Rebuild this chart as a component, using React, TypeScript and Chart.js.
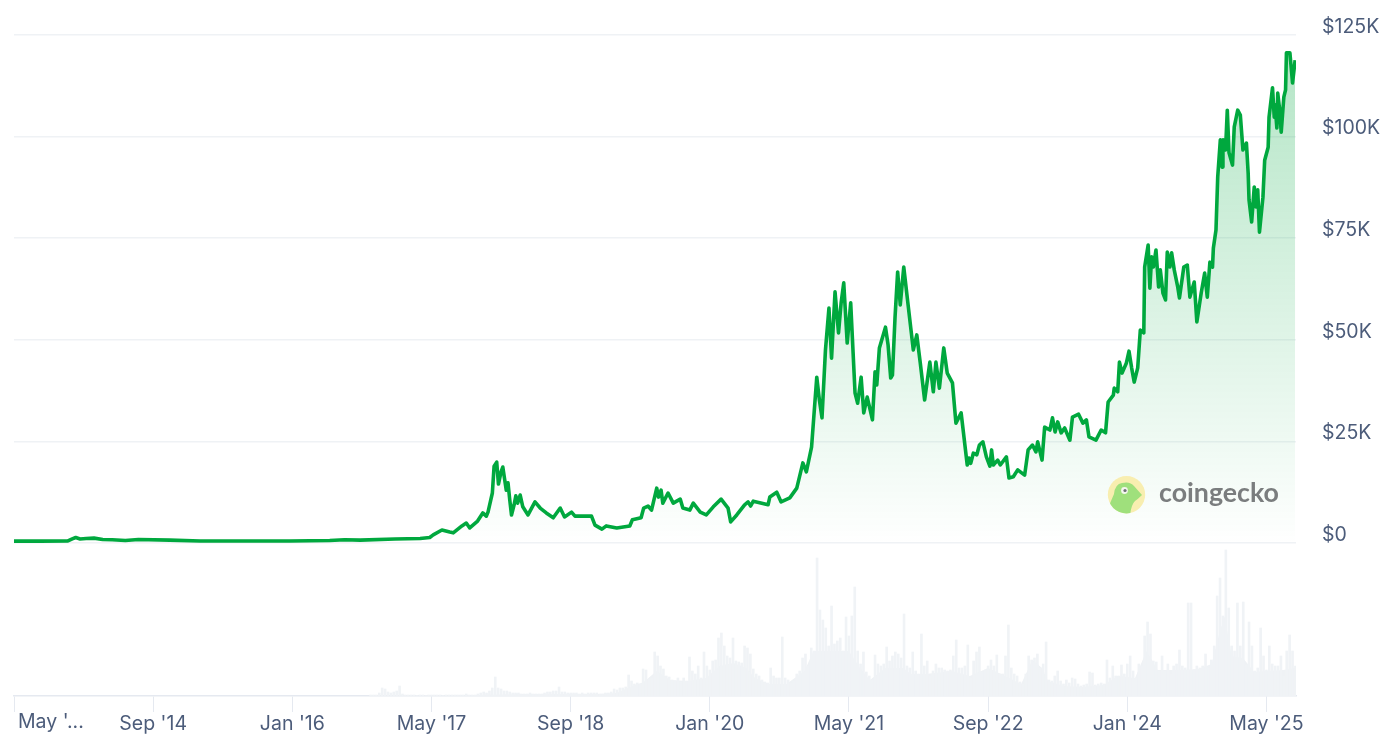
import { useEffect, useRef } from 'react';
import { Chart, registerables, type Plugin } from 'chart.js';

Chart.register(...registerables);

const FONT = 'Inter, "Noto Sans", sans-serif';
const FONT_SIZE = 19.5;
const TEXT_COLOR = '#4c5c7a';
const GRID_COLOR = '#eff2f5';
const AXIS_COLOR = '#e5e9f0';
const LINE_COLOR = '#00a83e';
const VOLUME_COLOR = '#eff2f5';
const VOLUME_SPIKE_COLOR = '#f0f3f6';

// x is months since May 2013
const xTickMonths = [0, 16, 32, 48, 64, 80, 96, 112, 128, 144];
const xTickLabels = ["May '...", "Sep '14", "Jan '16", "May '17", "Sep '18", "Jan '20", "May '21", "Sep '22", "Jan '24", "May '25"];
const yTickValues = [0, 25, 50, 75, 100, 125];

const priceMonths = [
  0, 3, 6.2, 6.7, 7.1, 7.6, 8.3, 9.2, 10.2, 11.3, 12.8, 14.3, 17.9, 21.4, 31.7, 36.3, 38, 39.8, 43.8, 46.7,
  47.8, 48.2, 49.2, 50.1, 50.5, 51.5, 52, 52.4, 53.3, 53.9, 54.3, 54.5, 55, 55.2, 55.5, 55.7, 56, 56.2, 56.6, 56.8,
  57, 57.2, 57.5, 57.7, 57.9, 58.2, 58.5, 59.1, 59.9, 60.5, 61.2, 62, 62.8, 63.3, 64.1, 64.5, 66.4, 66.8, 67.6, 68.1,
  69.3, 70.8, 71.1, 72.1, 72.4, 72.9, 73.3, 73.9, 74.1, 74.4, 74.6, 75.2, 75.8, 76.6, 76.9, 77.7, 78.1, 78.9, 79.6, 80.4,
  81.3, 82.1, 82.4, 83.1, 84, 84.4, 84.7, 85, 86.7, 86.9, 87.7, 88.2, 89.2, 90, 90.7, 91.1, 91.7, 92.3, 92.6, 92.9,
  93.3, 93.7, 94, 94.4, 94.8, 95.1, 95.4, 95.8, 96.2, 96.7, 97, 97.4, 97.7, 98.1, 98.7, 99, 99.2, 99.5, 100.2, 100.5,
  100.8, 101, 101.3, 101.6, 101.9, 102.3, 102.8, 103.4, 103.8, 104.2, 104.7, 105.3, 105.7, 106, 106.4, 106.9, 107.3, 107.9, 108.3, 108.9,
  109.6, 109.8, 110, 110.3, 110.7, 111, 111.4, 111.8, 112.2, 112.4, 112.6, 113.1, 113.4, 114.1, 114.4, 114.9, 115.4, 116.2, 116.6,
  116.8, 117.1, 117.5, 117.7, 118.2, 118.5, 119.1, 119.4, 119.7, 120,
  120.4, 120.8, 121.4, 121.7, 122.4, 122.9, 123.3, 123.6, 124.4, 125, 125.5, 125.8, 126.4, 126.5, 126.9, 127.1, 127.4, 127.9, 128.2, 128.5,
  128.8, 129.2, 129.5, 129.9, 130, 130.4, 130.6, 130.8, 131, 131.3, 131.6, 131.8, 132.1, 132.4, 132.6, 132.9, 133.1, 133.4, 133.8, 134,
  134.5, 134.9, 135.2, 135.7, 136, 136.5, 136.9, 137.2, 137.5, 137.8, 137.9, 138.2, 138.4, 138.7, 138.9, 139, 139.3, 139.5, 139.7, 140.1,
  140.3, 140.7, 141, 141.3, 141.7, 141.9, 142, 142.3, 142.6, 142.8, 143, 143.2, 143.6, 143.8, 144.2, 144.3, 144.7, 144.9, 145, 145.2,
  145.3, 145.5, 145.7, 146, 146.2, 146.3, 146.7, 147, 147.3,
];

// price in $K
const priceValues = [
  0.45, 0.45, 0.5, 1, 1.35, 1, 1.1, 1.2, 0.85, 0.8, 0.6, 0.85, 0.7, 0.5, 0.5, 0.6, 0.8, 0.7, 1, 1.1,
  1.35, 2, 3.2, 2.7, 2.5, 4.2, 4.9, 3.7, 5.4, 7.4, 6.6, 7.6, 12.3, 18.9, 19.9, 14.5, 17.5, 18.7, 13, 14.8,
  10.6, 6.9, 9.4, 11.6, 9.8, 11.8, 8.9, 6.9, 10.1, 8.6, 7.4, 6.2, 8.6, 6.4, 7.6, 6.6, 6.6, 4.4, 3.4, 4.2,
  3.7, 4.2, 5.7, 6.2, 8.6, 9.1, 8.1, 13.5, 11.3, 13, 9.8, 12.3, 9.8, 10.8, 8.6, 8.1, 9.8, 7.6, 6.9, 8.9,
  10.8, 8.6, 5.2, 6.9, 9.4, 10.1, 9.1, 10.3, 9.4, 11.3, 12.5, 10.1, 11.1, 13.5, 19.7, 17.5, 23.6, 40.8, 35.2, 30.8,
  47.5, 57.8, 45.5, 61.8, 51.7, 59.1, 64, 49.2, 59.1, 36.9, 34.4, 40.8, 32, 35.9, 30.3, 42.1, 38.9, 48, 53.1, 48.7,
  40.6, 41.3, 55.6, 66.7, 58.6, 67.9, 58.6, 47.5, 51.2, 44.3, 35.2, 44.5, 37.2, 44.5, 38.1, 48, 41.8, 39.4, 29.5, 32,
  19.2, 20.9, 19.6, 22.1, 21.7, 24.1, 24.9, 21.2, 18.9, 22.9, 19.2, 20.4, 19.2, 21.2, 16, 16.3, 18, 16.7, 22.9,
  23.4, 24.1, 22.4, 24.9, 20.4, 28.5, 27.8, 30.8, 27.3, 29.8,
  27.1, 28.3, 25.3, 31, 31.7, 29.5, 30.3, 26.1, 25.3, 27.8, 27.1, 34.7, 36.4, 38.1, 37.2, 44.5, 41.8, 44.3, 47.2, 43.1,
  39.6, 43.1, 52.4, 51.7, 67.9, 73.3, 62.7, 70.4, 67.9, 72.1, 63, 67.2, 61.5, 59.8, 71.6, 67.9, 71.4, 67.2, 63, 60.3,
  67.9, 68.4, 60.5, 64.2, 54.4, 61.5, 66.4, 60.5, 69.1, 67.9, 72.6, 77, 90.1, 99.2, 92.5, 99.2, 96.7, 106.5, 96, 93,
  102.4, 106.5, 105.3, 96.7, 98.4, 91, 84.4, 79, 87.6, 82.7, 86.9, 76.5, 85.1, 94.2, 97.4, 104.8, 112, 104.8, 107.8, 102.1,
  110.7, 107, 101.1, 109.7, 111.5, 120.6, 120.6, 113.2, 118.8,
];

// one volume bar every third of a month, first one at month 41, in $B
const volumeStartMonth = 41;
const volumeValues = [
  1, 1, 1, 3, 8, 7, 4, 3, 4, 5, 10, 2,
  1, 1, 1, 1, 0.5, 1, 1, 0.5, 1, 1, 1, 1, 1, 0.5, 1, 1, 1, 1, 1, 1, 1, 2, 1, 1, 1, 2,
  3, 4, 3, 5, 8, 19,
  8, 7, 5, 5, 4, 3, 3, 3, 2, 2, 2, 3, 2, 2, 2, 2, 3, 4, 4, 5, 5, 9, 4, 4, 3, 3, 3, 3, 2, 3, 2, 3, 3, 3, 3, 2, 2, 3, 3, 4, 7, 6, 8, 8, 9,
  21, 15, 12, 13, 12, 27, 26, 17, 18, 44, 40, 30, 27, 20, 19, 16, 15, 18, 14, 18, 15, 39, 25, 22, 30, 18, 44, 30, 26, 35, 36, 58, 63,
  50, 40, 38, 58, 35, 34, 33, 50, 48, 42, 27, 22, 20, 16, 14, 13, 28, 20, 18, 18, 59, 18, 16, 13, 15, 22, 25, 38, 42, 30, 48, 45,
  138, 86, 76, 68, 50, 90, 52, 55, 58, 45, 79, 60, 80, 109, 45, 32, 44, 24, 20, 16, 41, 32, 30, 32, 49, 35, 40, 44, 42, 38, 82, 30,
  28, 44, 25, 22, 62, 30, 35, 20, 25, 32, 28, 28, 26, 25, 26, 40, 56, 28, 28, 30, 51, 18, 35, 44, 49, 24, 26, 30, 36, 30, 41, 22,
  22, 40, 71, 28, 22, 20, 14, 12, 22, 40, 36, 38, 42, 28, 32, 54, 16, 15, 20, 25, 15, 12, 16, 13, 18, 17, 12, 10, 11, 12, 24, 23,
  11, 12, 13, 12, 36, 18, 30, 20, 20, 31, 22, 32, 40, 25, 18, 32, 30, 60, 74, 62, 35, 34, 25, 40, 25, 32, 22, 30, 32, 46, 30, 28,
  93, 93, 26, 30, 28, 30, 42, 28, 36, 50, 100, 118, 80, 146, 88, 50, 45, 93, 50, 94, 31, 74, 50, 25, 28, 68, 40, 26, 50, 32, 30, 30,
  40, 20, 45, 61, 45, 30, 30,
];

// the solid lower envelope under the volume spikes, in $B
const volumeBaseMonths = [
  52, 55, 60, 64, 67.2, 69.3, 70.3, 72.4, 73.9, 75.5, 77.5, 79.6, 81.1, 82.7, 84.2, 85.2, 86.8, 88.8, 90.9, 91.9,
  94, 96, 97.1, 98.4, 100.2, 102.2, 103.2, 104.8, 107.9, 109.9, 112, 113.5, 115.8, 117.1, 118.2, 118.9, 120.7, 122.8, 125.3, 126.9,
  128.9, 130.2, 131.5, 134.1, 136.2, 137.7, 138.5, 139.2, 140, 141.3, 142.6, 143.9, 145.9, 147.4,
];
const volumeBaseValues = [
  0.5, 1.5, 2, 2, 2, 3, 7, 14, 25, 16, 15, 18, 30, 33, 28, 18, 12, 12, 25, 45,
  45, 45, 30, 16, 28, 28, 22, 22, 25, 20, 28, 22, 12, 36, 28, 15, 10, 9, 11, 20,
  18, 45, 26, 26, 27, 32, 60, 80, 40, 38, 24, 25, 26, 28,
];

// draws the truncated first x label (it starts right of its tick) and the watermark
const overlayPlugin: Plugin<'line'> = {
  id: 'overlay',
  afterDraw(chart) {
    const { ctx, scales } = chart;
    ctx.save();
    ctx.fillStyle = TEXT_COLOR;
    ctx.font = `${FONT_SIZE}px ${FONT}`;
    ctx.textAlign = 'left';
    ctx.textBaseline = 'middle';
    ctx.fillText(xTickLabels[0], scales.x.getPixelForValue(0) + 4, 722);

    // coingecko logo
    ctx.beginPath();
    ctx.arc(1126.5, 494.7, 18.7, 0, Math.PI * 2);
    ctx.fillStyle = '#f8eeb0';
    ctx.fill();
    ctx.clip();
    ctx.beginPath();
    ctx.moveTo(1108, 508);
    ctx.lineTo(1114, 494);
    ctx.quadraticCurveTo(1115, 484, 1122, 483);
    ctx.quadraticCurveTo(1130, 481, 1134, 486);
    ctx.lineTo(1142, 495);
    ctx.quadraticCurveTo(1138, 499, 1135, 501);
    ctx.quadraticCurveTo(1131, 505, 1130, 516);
    ctx.lineTo(1108, 516);
    ctx.closePath();
    ctx.fillStyle = '#9fe07c';
    ctx.fill();
    ctx.beginPath();
    ctx.arc(1124.5, 490.5, 3.4, 0, Math.PI * 2);
    ctx.fillStyle = '#f4f6ee';
    ctx.fill();
    ctx.beginPath();
    ctx.arc(1125, 490.5, 1.6, 0, Math.PI * 2);
    ctx.fillStyle = '#6f6f78';
    ctx.fill();
    ctx.restore();

    ctx.save();
    ctx.fillStyle = '#7a7d7e';
    ctx.font = `700 27px Lato, ${FONT}`;
    ctx.textAlign = 'left';
    ctx.textBaseline = 'alphabetic';
    ctx.fillText('coingecko', 1159, 502, 120);
    ctx.restore();
  },
};

export default function App() {
  const canvasRef = useRef<HTMLCanvasElement>(null);

  useEffect(() => {
    if (!canvasRef.current) return;
    const chart = new Chart(canvasRef.current, {
      type: 'line',
      data: {
        datasets: [
          {
            label: 'Price',
            data: priceMonths.map((x, i) => ({ x, y: priceValues[i] })),
            yAxisID: 'y',
            order: 1,
            borderColor: LINE_COLOR,
            borderWidth: 3.6,
            borderJoinStyle: 'round',
            pointRadius: 0,
            tension: 0,
            fill: { value: 0 },
            backgroundColor: (ctx: any) => {
              const s = ctx.chart.scales.y;
              if (!ctx.chart.chartArea || !s) return 'transparent';
              const top = s.getPixelForValue(120);
              const bottom = s.getPixelForValue(0);
              if (!isFinite(top) || !isFinite(bottom)) return 'transparent';
              const g = ctx.chart.ctx.createLinearGradient(0, top, 0, bottom);
              g.addColorStop(0, 'rgba(0,168,62,0.29)');
              g.addColorStop(0.97, 'rgba(0,168,62,0.01)');
              g.addColorStop(1, 'rgba(0,168,62,0)');
              return g;
            },
          },
          {
            type: 'bar',
            label: 'Volume',
            data: volumeValues.map((y, i) => ({ x: volumeStartMonth + i / 3, y })),
            yAxisID: 'volume',
            order: 2,
            backgroundColor: VOLUME_SPIKE_COLOR,
            barThickness: 2,
          } as any,
          {
            label: 'Volume base',
            data: volumeBaseMonths.map((x, i) => ({ x, y: volumeBaseValues[i] })),
            yAxisID: 'volume',
            order: 3,
            borderWidth: 0,
            pointRadius: 0,
            fill: 'origin',
            backgroundColor: VOLUME_COLOR,
          },
        ],
      },
      options: {
        animation: false,
        responsive: false,
        layout: { padding: { left: 14, top: 35, right: 0, bottom: 0 } },
        plugins: { legend: { display: false }, tooltip: { enabled: false } },
        scales: {
          x: {
            type: 'linear',
            min: 0,
            max: 147.4,
            offset: false,
            afterBuildTicks: (s: any) => {
              s.ticks = xTickMonths.map((value) => ({ value }));
            },
            afterFit: (s: any) => {
              s.height = 44;
              s.paddingLeft = 0;
              s.paddingRight = 0;
            },
            grid: { drawOnChartArea: false, drawTicks: true, tickLength: 16, tickColor: AXIS_COLOR, offset: false },
            border: { display: true, color: AXIS_COLOR, width: 1.5 },
            ticks: {
              color: TEXT_COLOR,
              font: { family: FONT, size: FONT_SIZE },
              padding: 0,
              autoSkip: false,
              maxRotation: 0,
              callback: (_v: any, i: number) => (i === 0 ? '' : xTickLabels[i]),
            },
          },
          y: {
            type: 'linear',
            position: 'right',
            min: -37.65,
            max: 125,
            afterBuildTicks: (s: any) => {
              s.ticks = yTickValues.map((value) => ({ value }));
            },
            afterFit: (s: any) => {
              s.width = 104;
              s.paddingTop = 0;
              s.paddingBottom = 0;
            },
            grid: { color: GRID_COLOR, lineWidth: 1.5, drawTicks: false },
            border: { display: false },
            ticks: {
              color: TEXT_COLOR,
              // the empty second line lifts the label above its gridline
              font: { family: FONT, size: FONT_SIZE, lineHeight: '16px' },
              padding: 26,
              autoSkip: false,
              callback: (v: any) => [v === 0 ? '$0' : `$${v}K`, ''],
            },
          },
          volume: { type: 'linear', display: false, min: 0, max: 661 },
        },
      },
      plugins: [overlayPlugin],
    } as any);
    return () => chart.destroy();
  }, []);

  return (
    <div style={{ position: 'absolute', left: 0, top: 0, width: 1400, height: 740, background: '#fff' }}>
      <canvas ref={canvasRef} width={1400} height={740} style={{ display: 'block' }} />
    </div>
  );
}
